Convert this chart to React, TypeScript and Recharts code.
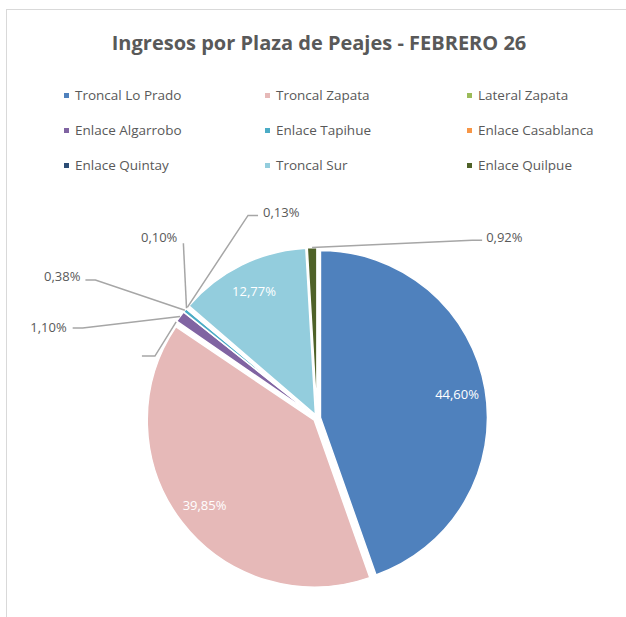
import { PieChart, Pie, Sector, Cell, Legend } from "recharts";

const PLAZAS = [
  "Troncal Lo Prado",
  "Troncal Zapata",
  "Lateral Zapata",
  "Enlace Algarrobo",
  "Enlace Tapihue",
  "Enlace Casablanca",
  "Enlace Quintay",
  "Troncal Sur",
  "Enlace Quilpue",
];

// share of income, in %
const SHARES = [44.6, 39.85, 0.15, 1.1, 0.38, 0.1, 0.13, 12.77, 0.92];

const COLORS = [
  "#4f81bd",
  "#e6b9b8",
  "#9bbb59",
  "#8064a2",
  "#4bacc6",
  "#f79646",
  "#2c4d75",
  "#93cddd",
  "#4f6228",
];

const data = PLAZAS.map((name, i) => ({ name, value: SHARES[i] }));

const FONT = "'Open Sans', 'Noto Sans', sans-serif";
const TEXT = "#595959";
const LINE = "#a6a6a6";
const RAD = Math.PI / 180;
const EXPLODE = 3.5;

// where the leader lines of the small slices bend (polar, from the pie centre)
const CALLOUTS: Record<string, { angle: number; dist: number; run: number; anchor: "start" | "end"; dx: number; dy: number; show: boolean }> = {
  "Enlace Quilpue": { angle: 48.9, dist: 236, run: 10, anchor: "start", dx: 4, dy: -3, show: true },
  "Enlace Quintay": { angle: 108.8, dist: 214, run: 10, anchor: "start", dx: 5, dy: -3, show: true },
  "Enlace Casablanca": { angle: 127.4, dist: 220, run: 0, anchor: "end", dx: -6, dy: -6, show: true },
  "Enlace Tapihue": { angle: 148.1, dist: 261, run: -10, anchor: "end", dx: -5, dy: -4, show: true },
  "Enlace Algarrobo": { angle: 159.0, dist: 251, run: -10, anchor: "end", dx: -6, dy: -1, show: true },
  "Lateral Zapata": { angle: 159.1, dist: 173.5, run: -13, anchor: "end", dx: -4, dy: 0, show: false },
};

const fmt = (v: number) => v.toFixed(2).replace(".", ",") + "%";

function ExplodedSector(props: any) {
  const a = props.midAngle * RAD;
  return (
    <Sector
      {...props}
      cx={props.cx + EXPLODE * Math.cos(a)}
      cy={props.cy - EXPLODE * Math.sin(a)}
    />
  );
}

function renderLabel(p: any) {
  const { cx, cy, midAngle, outerRadius, value } = p;
  const name = p.name ?? p.payload?.name;
  const a = midAngle * RAD;
  const c = CALLOUTS[name];
  if (!c) {
    const r = outerRadius * 0.83 + EXPLODE;
    return (
      <text
        x={cx + r * Math.cos(a)}
        y={cy - r * Math.sin(a)}
        fill="#ffffff"
        fontSize={13}
        fontFamily={FONT}
        textAnchor="middle"
        dominantBaseline="central"
      >
        {fmt(value)}
      </text>
    );
  }
  const sr = outerRadius + EXPLODE;
  const sx = cx + sr * Math.cos(a);
  const sy = cy - sr * Math.sin(a);
  const ex = cx + c.dist * Math.cos(c.angle * RAD);
  const ey = cy - c.dist * Math.sin(c.angle * RAD);
  return (
    <g>
      <polyline
        points={`${sx},${sy} ${ex},${ey} ${ex + c.run},${ey}`}
        fill="none"
        stroke={LINE}
        strokeWidth={1.5}
      />
      {c.show && (
        <text
          x={ex + c.run + c.dx}
          y={ey + c.dy}
          fill={TEXT}
          fontSize={13}
          fontFamily={FONT}
          textAnchor={c.anchor}
          dominantBaseline="central"
        >
          {fmt(value)}
        </text>
      )}
    </g>
  );
}

const LEGEND_COLS = [64, 265, 467];
const LEGEND_ROWS = [95, 130, 165];

function renderLegend() {
  return (
    <div style={{ position: "relative", width: 626, height: 0 }}>
      {PLAZAS.map((name, i) => (
        <div
          key={name}
          style={{
            position: "absolute",
            left: LEGEND_COLS[i % 3],
            top: LEGEND_ROWS[Math.floor(i / 3)] - 10,
            height: 20,
            display: "flex",
            alignItems: "center",
            whiteSpace: "nowrap",
            fontFamily: FONT,
            fontSize: 13.5,
            color: TEXT,
          }}
        >
          <span style={{ width: 5, height: 5, background: COLORS[i], marginRight: 6, display: "inline-block" }} />
          {name}
        </div>
      ))}
    </div>
  );
}

export default function App() {
  return (
    <div style={{ position: "absolute", left: 0, top: 0, width: 626, height: 617, overflow: "hidden", background: "#fff" }}>
      <div
        style={{
          position: "absolute",
          left: 6,
          top: 9,
          width: 1000,
          height: 1000,
          borderLeft: "1px solid #d9d9d9",
          borderTop: "1px solid #d9d9d9",
        }}
      />
      <div
        style={{
          position: "absolute",
          left: 0,
          top: 29,
          width: 638,
          textAlign: "center",
          fontFamily: FONT,
          fontWeight: 700,
          fontSize: 20,
          color: TEXT,
        }}
      >
        Ingresos por Plaza de Peajes - FEBRERO 26
      </div>
      <div style={{ position: "absolute", left: 0, top: 0 }}>
        <PieChart width={626} height={617} margin={{ top: 0, right: 0, bottom: 0, left: 0 }}>
          <Pie
            data={data}
            dataKey="value"
            nameKey="name"
            cx={317}
            cy={418}
            outerRadius={167}
            startAngle={90}
            endAngle={-270}
            stroke="#ffffff"
            strokeWidth={1.5}
            shape={ExplodedSector}
            label={renderLabel}
            labelLine={false}
            isAnimationActive={false}
          >
            {data.map((d, i) => (
              <Cell key={d.name} fill={COLORS[i]} />
            ))}
          </Pie>
          <Legend
            content={renderLegend}
            wrapperStyle={{ position: "absolute", left: 0, top: 0, width: 626 }}
          />
        </PieChart>
      </div>
    </div>
  );
}
